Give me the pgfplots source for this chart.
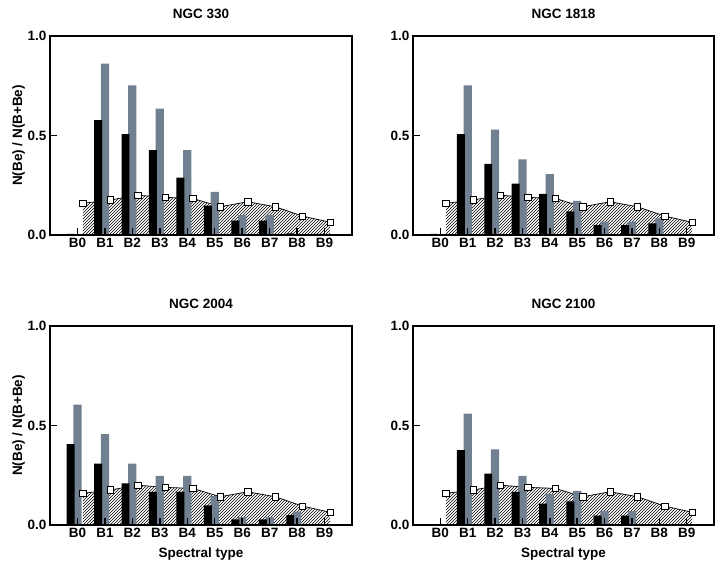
\documentclass[border=0pt]{standalone}
\usepackage{fontspec}
\setmainfont{Liberation Sans}
\usepackage{pgfplots}
\usepackage{pgfplotstable}
\pgfplotsset{compat=1.18}
\usetikzlibrary{patterns}
\definecolor{bargray}{RGB}{112,128,144}

\pgfplotstableread{
x sq
0 0.159
1 0.176
2 0.200
3 0.189
4 0.184
5 0.142
6 0.167
7 0.142
8 0.095
9 0.064
}\sqtab

\pgfplotstableread{
x black gray
0 0.005 0
1 0.577 0.861
2 0.507 0.752
3 0.426 0.635
4 0.288 0.426
5 0.147 0.217
6 0.072 0.100
7 0.072 0.100
8 0.008 0
9 0.005 0
}\tabA

\pgfplotstableread{
x black gray
0 0.005 0
1 0.507 0.752
2 0.358 0.530
3 0.258 0.380
4 0.207 0.306
5 0.119 0.172
6 0.050 0.067
7 0.050 0.067
8 0.059 0.084
9 0.005 0
}\tabB

\pgfplotstableread{
x black gray
0 0.406 0.605
1 0.309 0.457
2 0.209 0.308
3 0.167 0.247
4 0.167 0.247
5 0.099 0.145
6 0.028 0.039
7 0.028 0.039
8 0.050 0.067
9 0.005 0
}\tabC

\pgfplotstableread{
x black gray
0 0.005 0
1 0.376 0.560
2 0.258 0.380
3 0.167 0.247
4 0.107 0.157
5 0.119 0.172
6 0.047 0.070
7 0.047 0.070
8 0.005 0
9 0.005 0
}\tabD

\pgfplotsset{
  panel/.style={
    scale only axis,
    width=302pt, height=199pt,
    anchor=south west,
    xmin=-1, xmax=10, ymin=0, ymax=1,
    axis on top,
    axis line style={line width=1.5pt},
    xtick={0,...,9},
    xticklabels={B0,B1,B2,B3,B4,B5,B6,B7,B8,B9},
    ytick={0,0.5,1},
    yticklabels={0.0,0.5,1.0},
    xtick pos=bottom, ytick pos=left,
    tick align=inside,
    major tick length=7pt,
    tick style={line width=1.5pt, black},
    every tick label/.append style={font=\fontsize{13.5}{15}\selectfont\bfseries},
    label style={font=\fontsize{13.5}{15}\selectfont\bfseries},
    ylabel style={yshift=-4pt},
    xlabel style={yshift=-3pt},
    title style={font=\fontsize{13.5}{15}\selectfont\bfseries, at={(0.5,1)}, anchor=south, yshift=8pt},
  },
}

\newcommand{\panelplots}[1]{%
  \addplot[pattern=north east lines, draw=none] table[x expr=\thisrow{x}+0.2, y=sq] {\sqtab} \closedcycle;
  \addplot[black, line width=0.7pt, no marks] table[x expr=\thisrow{x}+0.2, y=sq] {\sqtab};
  \addplot[ybar, bar width=0.3, fill=bargray, draw=none] table[x=x, y=gray] {#1};
  \addplot[ybar, bar width=0.29, fill=black, draw=none] table[x expr=\thisrow{x}-0.25, y=black] {#1};
  \addplot[only marks, mark=square*, mark size=3.2pt, mark options={fill=white, draw=black, line width=0.6pt}] table[x expr=\thisrow{x}+0.2, y=sq] {\sqtab};
}

\begin{document}
\begin{tikzpicture}
\useasboundingbox (0,0) rectangle (727pt,569pt);
\begin{axis}[panel, at={(50pt,334pt)}, title={NGC 330}, ylabel={N(Be) / N(B+Be)}]
\panelplots{\tabA}
\end{axis}
\begin{axis}[panel, at={(413pt,334pt)}, width=301pt, title={NGC 1818}]
\panelplots{\tabB}
\end{axis}
\begin{axis}[panel, at={(50pt,44pt)}, title={NGC 2004}, ylabel={N(Be) / N(B+Be)}, xlabel={Spectral type}]
\panelplots{\tabC}
\end{axis}
\begin{axis}[panel, at={(413pt,44pt)}, width=301pt, title={NGC 2100}, xlabel={Spectral type}]
\panelplots{\tabD}
\end{axis}
\end{tikzpicture}
\end{document}
